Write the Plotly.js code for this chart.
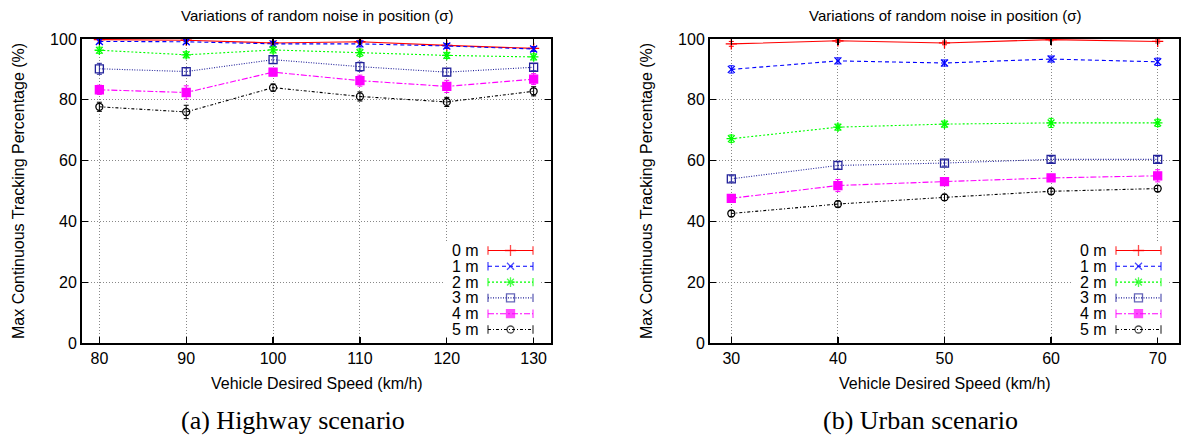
<!DOCTYPE html>
<html>
<head>
<meta charset="utf-8">
<script src="https://cdn.plot.ly/plotly-3.0.1.min.js"></script>
<style>html,body{margin:0;padding:0;background:#fff}#chart{width:1181px;height:441px}</style>
</head>
<body>
<div id="chart"></div>
<script>
// ---------------- data ----------------
const seriesNames = ["0 m", "1 m", "2 m", "3 m", "4 m", "5 m"];

const highwaySpeeds = [80, 90, 100, 110, 120, 130];
const hw0 = [99.8, 99.6, 98.7, 99.1, 97.9, 96.9];
const hw1 = [99.2, 99.1, 98.4, 98.4, 97.7, 96.7];
const hw2 = [96.3, 94.8, 96.4, 95.5, 94.6, 94.1];
const hw3 = [90.2, 89.3, 93.2, 90.9, 89.1, 90.7];
const hw4 = [83.3, 82.4, 89.1, 86.3, 84.4, 86.8];
const hw5 = [77.7, 76.0, 84.0, 81.1, 79.3, 82.8];
const hwErr0 = [0.4, 0.4, 0.6, 0.5, 0.6, 0.6];
const hwErr1 = [0.6, 0.6, 0.8, 1.0, 0.8, 0.8];
const hwErr2 = [1.0, 1.0, 1.0, 1.2, 1.0, 1.0];
const hwErr3 = [1.8, 1.2, 1.2, 1.5, 1.2, 1.2];
const hwErr4 = [1.5, 2.2, 1.2, 1.8, 2.0, 1.8];
const hwErr5 = [1.5, 2.2, 1.2, 1.5, 1.5, 1.5];

const urbanSpeeds = [30, 40, 50, 60, 70];
const ub0 = [98.4, 99.4, 98.7, 99.8, 99.2];
const ub1 = [90.0, 92.8, 92.1, 93.4, 92.5];
const ub2 = [67.2, 71.0, 72.0, 72.4, 72.4];
const ub3 = [54.0, 58.4, 59.2, 60.4, 60.4];
const ub4 = [47.6, 51.8, 53.1, 54.3, 55.0];
const ub5 = [42.6, 45.7, 47.9, 49.9, 50.8];
const ubErr0 = [0.8, 0.5, 0.6, 0.4, 0.5];
const ubErr1 = [1.2, 1.0, 1.0, 1.0, 1.2];
const ubErr2 = [1.2, 1.0, 1.0, 1.5, 1.2];
const ubErr3 = [1.0, 1.2, 1.0, 1.0, 1.0];
const ubErr4 = [1.0, 2.0, 1.0, 1.0, 2.0];
const ubErr5 = [1.0, 1.0, 1.0, 1.0, 1.0];

const xTickHighway = [80, 90, 100, 110, 120, 130];
const xTickUrban = [30, 40, 50, 60, 70];
const yTicks = [0, 20, 40, 60, 80, 100];

// ---------------- styles ----------------
const styles = [
  {color: "#ff0000", dash: "solid", symbol: "cross-thin", size: 8},
  {color: "#0000ff", dash: "4px,3px", symbol: "x-thin", size: 7},
  {color: "#00ff00", dash: "2px,2px", symbol: "asterisk", size: 8},
  {color: "#22229a", dash: "1px,1.5px", symbol: "square-open", size: 8},
  {color: "#ff00ff", dash: "6px,2px,2px,2px", symbol: "square", size: 8},
  {color: "#000000", dash: "3px,2px,1px,2px", symbol: "circle-open", size: 7}
];

const FW = 1181, FH = 441;
const PW = 469, PTOP = 39, PBOT = 343, PH = PBOT - PTOP;
const LX = 82, RX = 710;
const dom = (x0) => [x0 / FW, (x0 + PW) / FW];
const ydom = [1 - PBOT / FH, 1 - PTOP / FH];

const hwY = [hw0, hw1, hw2, hw3, hw4, hw5];
const hwE = [hwErr0, hwErr1, hwErr2, hwErr3, hwErr4, hwErr5];
const ubY = [ub0, ub1, ub2, ub3, ub4, ub5];
const ubE = [ubErr0, ubErr1, ubErr2, ubErr3, ubErr4, ubErr5];

const traces = [];
function addSeries(xs, ys, es, xa, ya) {
  ys.forEach((y, i) => {
    const s = styles[i];
    traces.push({
      type: "scatter", mode: "lines+markers", x: xs, y: y,
      xaxis: xa, yaxis: ya, name: seriesNames[i], showlegend: false,
      line: {color: s.color, dash: s.dash, width: 1.1},
      marker: {symbol: s.symbol, size: s.size, color: s.color, line: {color: s.color, width: 1.3}},
      error_y: {type: "data", array: es[i], visible: true, color: s.color, thickness: 1, width: 2.5}
    });
  });
}
addSeries(highwaySpeeds, hwY, hwE, "x", "y");
addSeries(urbanSpeeds, ubY, ubE, "x2", "y2");

// gnuplot-style key: text left, sample right (pixel-unit overlay axes)
const annotations = [];
const shapes = [];
function addKey(xa, ya) {
  const rowTop = 211.5, rowStep = 15.8;
  const sx0 = PW - 63, sx1 = PW - 18, sxm = (sx0 + sx1) / 2;
  shapes.push({type: "rect", xref: xa, yref: ya, x0: PW - 106, x1: PW - 12,
    y0: rowTop - 8, y1: rowTop + 5 * rowStep + 8, fillcolor: "#ffffff",
    line: {width: 0}, layer: "below"});
  seriesNames.forEach((nm, i) => {
    const s = styles[i];
    const yy = rowTop + i * rowStep;
    traces.push({
      type: "scatter", mode: "lines+markers", x: [sx0, sxm, sx1], y: [yy, yy, yy],
      xaxis: xa, yaxis: ya, showlegend: false, hoverinfo: "skip",
      line: {color: s.color, dash: s.dash, width: 1.1},
      marker: {symbol: ["line-ns", s.symbol, "line-ns"], size: [6, s.size, 6],
        color: s.color, line: {color: s.color, width: 1.3}}
    });
    annotations.push({xref: xa, yref: ya, x: PW - 70, y: yy, text: nm, showarrow: false,
      xanchor: "right", yanchor: "middle", font: {family: "Liberation Sans, Arial, sans-serif", size: 16, color: "#000"}});
  });
}
addKey("x3", "y3");
addKey("x4", "y4");

const tickFont = {family: "Liberation Sans, Arial, sans-serif", size: 16, color: "#000"};
const lblFont = {family: "Liberation Sans, Arial, sans-serif", size: 16, color: "#000"};
const ttlFont = {family: "Liberation Sans, Arial, sans-serif", size: 15, color: "#000"};
function xAxis(d, range, ticks, anchor) {
  return {domain: d, range: range, anchor: anchor, tickmode: "array", tickvals: ticks,
    ticks: "inside", ticklen: 6, tickwidth: 1.3, tickcolor: "#000",
    showline: true, linewidth: 2, linecolor: "#000", mirror: "ticks",
    showgrid: true, gridcolor: "#888", griddash: "1px,2px", gridwidth: 1,
    zeroline: false, tickfont: tickFont, fixedrange: true};
}
function yAxis(anchor) {
  return {domain: ydom, range: [0, 100], anchor: anchor, tickmode: "array", tickvals: yTicks,
    ticks: "inside", ticklen: 6, tickwidth: 1.3, tickcolor: "#000",
    showline: true, linewidth: 2, linecolor: "#000", mirror: "ticks",
    showgrid: true, gridcolor: "#888", griddash: "1px,2px", gridwidth: 1,
    zeroline: false, tickfont: tickFont, fixedrange: true};
}
function hidden(d, range, anchor) {
  return {domain: d, range: range, anchor: anchor, visible: false, showgrid: false, zeroline: false, fixedrange: true};
}

const titleText = "Variations of random noise in position (σ)";
const yTitle = "Max Continuous Tracking Percentage (%)";
const xTitle = "Vehicle Desired Speed (km/h)";
const captions = ["(a) Highway scenario", "(b) Urban scenario"];

[[LX, 0], [RX, 1]].forEach(([x0, k]) => {
  const cx = (x0 + PW / 2) / FW;
  annotations.push({xref: "paper", yref: "paper", x: cx, y: 1 - 16 / FH, text: titleText,
    showarrow: false, xanchor: "center", yanchor: "middle", font: ttlFont});
  annotations.push({xref: "paper", yref: "paper", x: cx, y: 1 - 383 / FH, text: xTitle,
    showarrow: false, xanchor: "center", yanchor: "middle", font: lblFont});
  annotations.push({xref: "paper", yref: "paper", x: (x0 - 64) / FW, y: 1 - 191 / FH, text: yTitle,
    showarrow: false, xanchor: "center", yanchor: "middle", textangle: -90, font: lblFont});
  annotations.push({xref: "paper", yref: "paper", x: (x0 + PW / 2 - 24) / FW, y: 1 - 420 / FH, text: captions[k],
    showarrow: false, xanchor: "center", yanchor: "middle",
    font: {family: "Liberation Serif, 'DejaVu Serif', serif", size: 26, color: "#000"}});
});

const layout = {
  width: FW, height: FH, margin: {l: 0, r: 0, t: 0, b: 0},
  paper_bgcolor: "#fff", plot_bgcolor: "rgba(0,0,0,0)", showlegend: false,
  xaxis: xAxis(dom(LX), [78, 132], xTickHighway, "y"),
  yaxis: yAxis("x"),
  xaxis2: xAxis(dom(RX), [28, 72], xTickUrban, "y2"),
  yaxis2: yAxis("x2"),
  xaxis3: hidden(dom(LX), [0, PW], "y3"),
  yaxis3: hidden(ydom, [PH, 0], "x3"),
  xaxis4: hidden(dom(RX), [0, PW], "y4"),
  yaxis4: hidden(ydom, [PH, 0], "x4"),
  annotations: annotations, shapes: shapes
};

Plotly.newPlot("chart", traces, layout, {displayModeBar: false, staticPlot: true});
</script>
</body>
</html>
